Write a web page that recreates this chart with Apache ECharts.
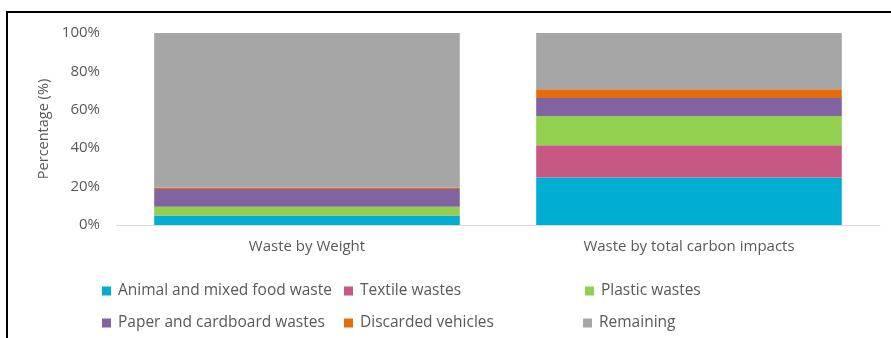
<!DOCTYPE html>
<html>
<head>
<meta charset="utf-8">
<script src="https://cdn.jsdelivr.net/npm/echarts@6/dist/echarts.min.js"></script>
<style>html,body{margin:0;padding:0;background:#fff}#c{width:891px;height:338px}</style>
</head>
<body>
<div id="c"></div>
<script>
var categories = ['Waste by Weight', 'Waste by total carbon impacts'];
var seriesNames = ['Animal and mixed food waste', 'Textile wastes', 'Plastic wastes', 'Paper and cardboard wastes', 'Discarded vehicles', 'Remaining'];
var animalFood = [4.7, 24.8];
var textile = [0.3, 16.7];
var plastic = [4.5, 15.3];
var paper = [9.3, 9.4];
var vehicles = [0.6, 4.5];
var remaining = [80.6, 29.3];
var yTicks = [0, 20, 40, 60, 80, 100];
var colors = ['#00AED4', '#C75884', '#92D050', '#8064A2', '#E46C0A', '#A6A6A6'];

var values = [animalFood, textile, plastic, paper, vehicles, remaining];
var font = 'Open Sans';
var txt = '#595959';

var series = seriesNames.map(function (n, i) {
  return {
    name: n, type: 'bar', stack: 's', barCategoryGap: '20%',
    data: values[i], itemStyle: { color: colors[i] }
  };
});

var legendPos = [[97, 278], [339, 278], [580, 278], [97, 310], [339, 310], [578, 310]];
var legends = seriesNames.map(function (n, i) {
  return {
    data: [n], left: legendPos[i][0], top: legendPos[i][1],
    icon: 'rect', itemWidth: 9, itemHeight: 9, itemGap: 0,
    textStyle: { fontFamily: font, fontSize: 15.5, color: txt, padding: [0, 0, 0, 2] },
    selectedMode: false
  };
});

var chart = echarts.init(document.getElementById('c'), null, { renderer: 'canvas' });
chart.setOption({
  animation: false,
  grid: { left: 116, right: 11, top: 33, bottom: 113 },
  legend: legends,
  xAxis: {
    type: 'category', data: categories,
    axisLine: { lineStyle: { color: '#D9D9D9', width: 1 } },
    axisTick: { show: false },
    axisLabel: { fontFamily: font, fontSize: 15, color: txt, margin: 14 }
  },
  yAxis: {
    type: 'value', min: yTicks[0], max: yTicks[yTicks.length - 1], interval: 20,
    name: 'Percentage (%)', nameLocation: 'middle', nameGap: 63,
    nameTextStyle: { fontFamily: font, fontSize: 14.5, color: txt },
    axisLine: { show: false }, axisTick: { show: false }, splitLine: { show: false },
    axisLabel: { fontFamily: font, fontSize: 15, color: txt, margin: 16, formatter: '{value}%' }
  },
  series: series,
  graphic: [
    { type: 'line', shape: { x1: 6, y1: 12, x2: 891, y2: 12 }, style: { stroke: '#000', lineWidth: 2 } },
    { type: 'line', shape: { x1: 7, y1: 11, x2: 7, y2: 338 }, style: { stroke: '#000', lineWidth: 2 } }
  ]
});
</script>
</body>
</html>
